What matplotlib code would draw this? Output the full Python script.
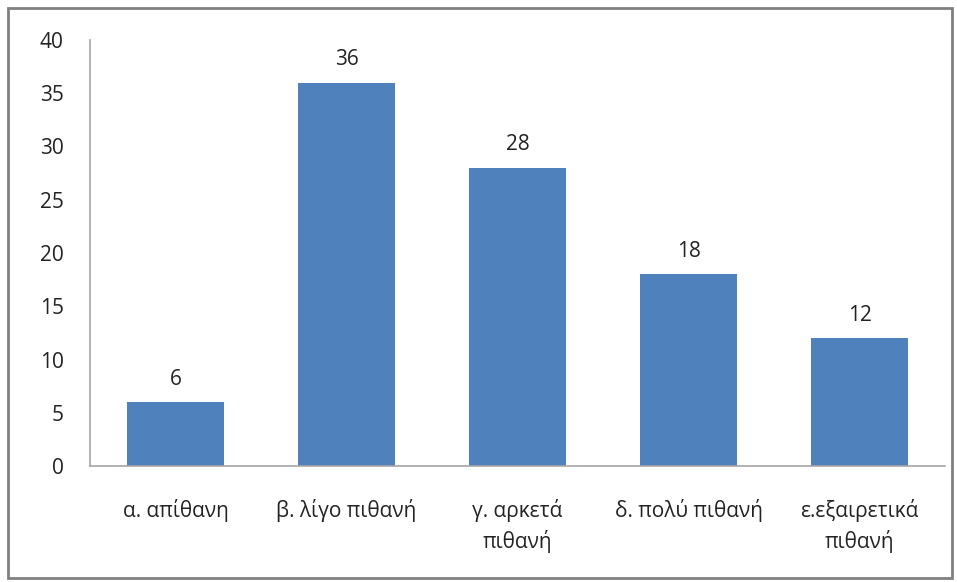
import matplotlib
matplotlib.use("Agg")
import matplotlib.pyplot as plt
from matplotlib.patches import Rectangle

# data
categories = ["α. απίθανη", "β. λίγο πιθανή", "γ. αρκετά\nπιθανή",
              "δ. πολύ πιθανή", "ε.εξαιρετικά\nπιθανή"]
values = [6, 36, 28, 18, 12]

plt.rcParams['font.family'] = ['Open Sans', 'DejaVu Sans']

fig = plt.figure(figsize=(9.57, 5.82), dpi=100)
ax = fig.add_axes([0.094, 0.1993, 0.8935, 0.732])

x = range(len(categories))
bars = ax.bar(x, values, width=0.57, color='#4F81BD')

for b, v in zip(bars, values):
    ax.annotate(str(v), (b.get_x() + b.get_width() / 2, v),
                xytext=(0, 9), textcoords='offset points',
                ha='center', va='bottom', fontsize=15, color='#222222')

ax.set_xlim(-0.5, len(categories) - 0.5)
ax.set_ylim(0, 40)
ax.set_yticks(range(0, 41, 5))
ax.set_xticks(list(x))
ax.set_xticklabels(categories, linespacing=1.4)
ax.tick_params(axis='both', length=0, labelsize=15, colors='#222222')
ax.tick_params(axis='x', pad=24)
ax.tick_params(axis='y', pad=19)

for s in ['top', 'right']:
    ax.spines[s].set_visible(False)
for s in ['left', 'bottom']:
    ax.spines[s].set_color('#A6A6A6')
    ax.spines[s].set_linewidth(1.2)

# outer chart border
fig.patches.append(Rectangle((8 / 957, 4 / 582), 944 / 957, 570 / 582,
                             transform=fig.transFigure, fill=False,
                             edgecolor='#808080', linewidth=2))

fig.savefig("out.png", dpi=100)
